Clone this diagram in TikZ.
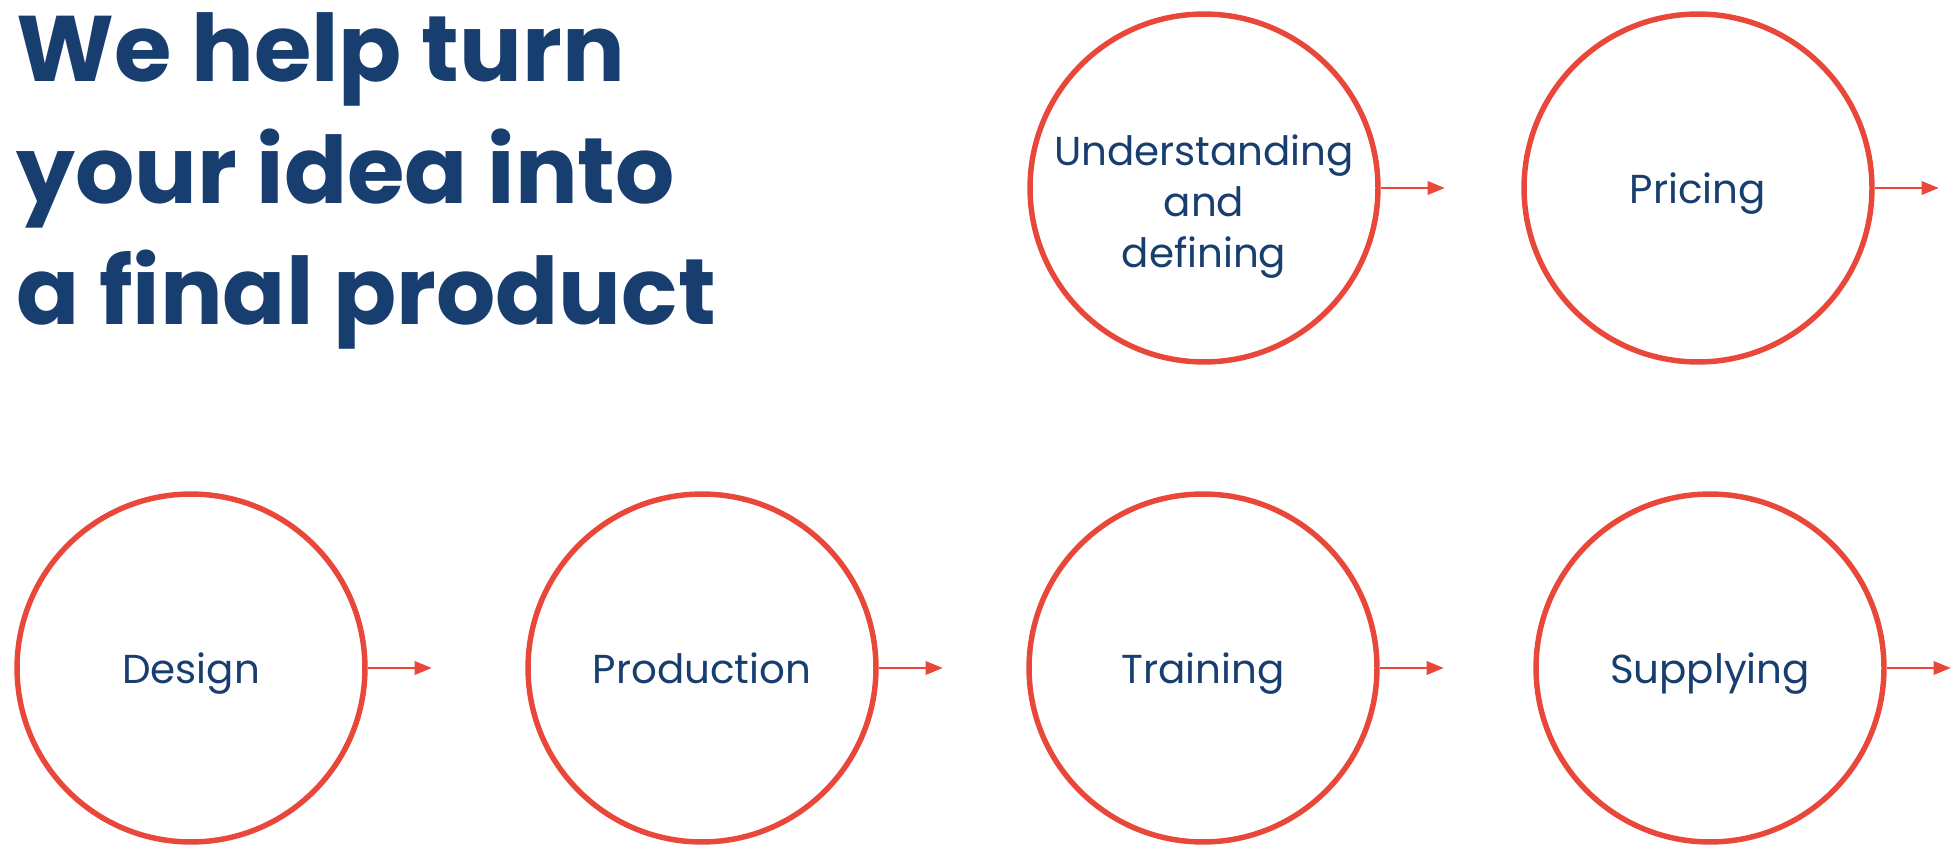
\documentclass[tikz,border=0pt]{standalone}
\usepackage{fontspec}
\setmainfont{Poppins}
\usetikzlibrary{arrows.meta}
\definecolor{stepred}{HTML}{E8473A}
\definecolor{navy}{HTML}{183E6F}

\begin{document}
\begin{tikzpicture}[x=0.02cm,y=0.02cm,
    stage/.style={circle,draw=stepred,line width=3.1pt,minimum size=6.96cm,inner sep=0pt,
        text=navy,font=\fontsize{23}{29}\selectfont,align=center,
        text height=18pt,text depth=0pt},
    next/.style={draw=stepred,line width=1.1pt,-{Triangle[length=0.34cm,width=0.27cm]}}]
    \useasboundingbox (0,0) rectangle (1960,846);

    \node[anchor=base west,align=left,text=navy,
        font=\fontsize{53}{69.2}\selectfont\bfseries] (title) at (10,521)
        {We help turn\\your idea into\\a final product};

    \node[stage,text height=90pt] (understand) at (1204,658) {Understanding\\and\\defining};
    \node[stage] (pricing) at (1698,658) {Pricing};
    \node[stage] (design) at (191,178) {Design};
    \node[stage] (production) at (702,178) {Production};
    \node[stage] (training) at (1203,178) {Training};
    \node[stage] (supplying) at (1710,178) {Supplying};

    \coordinate (understandout) at ([xshift=1.28cm]understand.east);
    \coordinate (pricingout) at ([xshift=1.28cm]pricing.east);
    \coordinate (designout) at ([xshift=1.28cm]design.east);
    \coordinate (productionout) at ([xshift=1.28cm]production.east);
    \coordinate (trainingout) at ([xshift=1.28cm]training.east);
    \coordinate (supplyingout) at ([xshift=1.28cm]supplying.east);

    \draw[next] (understand.east) -- (understandout);
    \draw[next] (pricing.east) -- (pricingout);
    \draw[next] (design.east) -- (designout);
    \draw[next] (production.east) -- (productionout);
    \draw[next] (training.east) -- (trainingout);
    \draw[next] (supplying.east) -- (supplyingout);
\end{tikzpicture}
\end{document}
